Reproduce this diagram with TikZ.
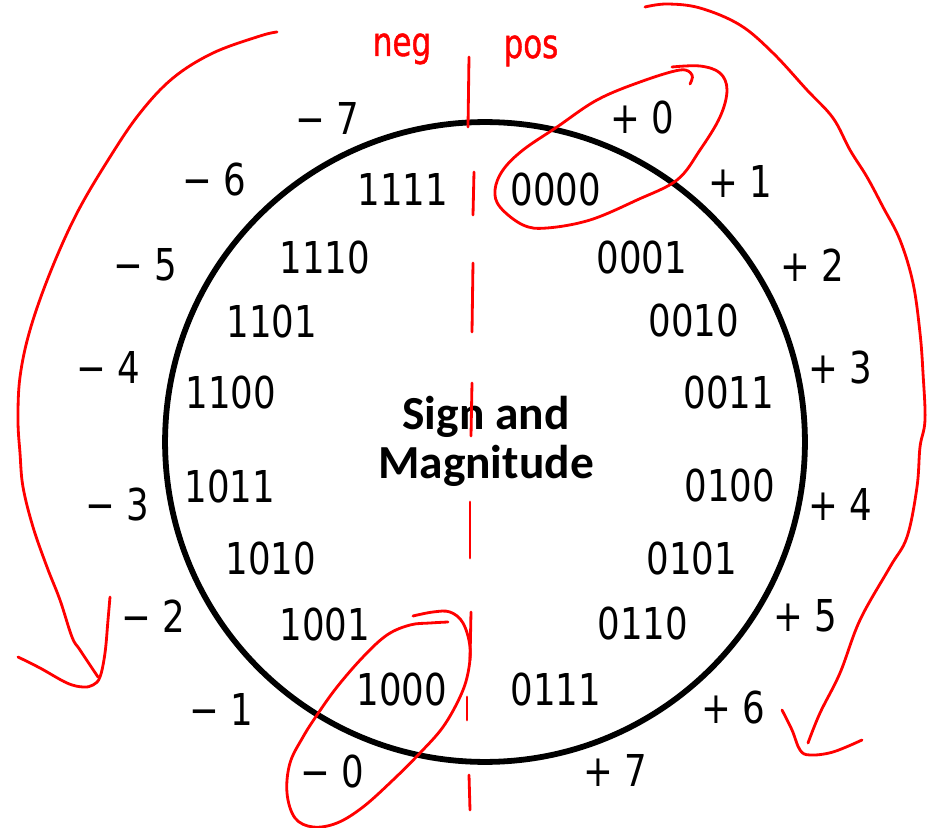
\documentclass[tikz,border=0pt]{standalone}
\usepackage{fontspec}
\newfontfamily\bitfont[FakeStretch=0.9]{DejaVu Sans Condensed}
\newfontfamily\titlefont{Carlito}
\newfontfamily\handfont[FakeStretch=0.85,FakeBold=1]{DejaVu Sans Condensed}

\begin{document}
\begin{tikzpicture}[x=0.02cm,y=-0.02cm]
\tikzset{
  wheel/.style={circle,draw,line width=3.3pt,minimum size=12.8cm,inner sep=0pt},
  bitcode/.style={font=\bitfont\fontsize{25}{30}\selectfont,inner sep=0pt},
  signval/.style={font=\bitfont\fontsize{25}{30}\selectfont,inner sep=0pt},
  titletext/.style={font=\titlefont\bfseries\fontsize{27}{28}\selectfont,align=center,inner sep=0pt},
  handnote/.style={red,font=\handfont\fontsize{23}{26}\selectfont,inner sep=0pt,anchor=base},
  pen/.style={red,line width=1.6pt,line cap=round,line join=round}
}
\useasboundingbox (0,0) rectangle (934,828);

\node[wheel] (ring) at (485,442) {};
\node[titletext] (title) at (486,441) {Sign and\\Magnitude};

% codes inside the ring
\node[bitcode] (b0000) at (556,190) {0000};
\node[bitcode] (b0001) at (642,258) {0001};
\node[bitcode] (b0010) at (694,321) {0010};
\node[bitcode] (b0011) at (729,393) {0011};
\node[bitcode] (b0100) at (730,486) {0100};
\node[bitcode] (b0101) at (692,559) {0101};
\node[bitcode] (b0110) at (643,624) {0110};
\node[bitcode] (b0111) at (556,690) {0111};
\node[bitcode] (b1000) at (402,690) {1000};
\node[bitcode] (b1001) at (325,625) {1001};
\node[bitcode] (b1010) at (271,559) {1010};
\node[bitcode] (b1011) at (230,487) {1011};
\node[bitcode] (b1100) at (231,393) {1100};
\node[bitcode] (b1101) at (272,322) {1101};
\node[bitcode] (b1110) at (325,258) {1110};
\node[bitcode] (b1111) at (403,189) {1111};

% values outside the ring
\node[signval] (p0) at (642,118) {+ 0};
\node[signval] (p1) at (740,181) {+ 1};
\node[signval] (p2) at (812,265) {+ 2};
\node[signval] (p3) at (840,368) {+ 3};
\node[signval] (p4) at (840,504) {+ 4};
\node[signval] (p5) at (805,616) {+ 5};
\node[signval] (p6) at (733,708) {+ 6};
\node[signval] (p7) at (615,770) {+ 7};
\node[signval] (m0) at (332,772) {− 0};
\node[signval] (m1) at (221,709) {− 1};
\node[signval] (m2) at (153,616) {− 2};
\node[signval] (m3) at (117,505) {− 3};
\node[signval] (m4) at (108,367) {− 4};
\node[signval] (m5) at (145,265) {− 5};
\node[signval] (m6) at (214,180) {− 6};
\node[signval] (m7) at (327,118) {− 7};

% red pen notes
\node[handnote] (neg) at (402,56) {neg};
\node[handnote] (pos) at (531,58) {pos};

\draw[pen] (469,57) -- (468,127);
\draw[pen] (474,172) -- (473,215);
\draw[pen] (473,263) -- (472,332);
\draw[pen] (472,383) -- (471,436);
\draw[pen] (470,502) -- (470,558);
\draw[pen] (471,612) -- (470,660);
\draw[pen] (467,697) -- (467,720);
\draw[pen] (469,775) -- (470,810);

\draw[pen] plot[smooth,tension=0.6] coordinates {(690,84) (692,75) (680,70) (640,82) (597,100) (557,127) (523,150) (503,170) (495,190) (500,207) (523,225) (547,228) (590,220) (637,200) (677,180) (700,150) (720,117) (727,90) (720,73) (700,66) (672,67)};
\draw[pen] plot[smooth,tension=0.6] coordinates {(448,622) (430,623) (410,625) (387,635) (363,657) (337,687) (317,715) (303,737) (290,763) (287,793) (295,818) (313,827) (337,823) (363,807) (393,780) (420,753) (443,727) (460,697) (468,673) (470,647) (463,623) (450,612) (433,612) (413,616)};

\draw[pen] plot[smooth,tension=0.6] coordinates {(277,32) (260,36) (213,53) (173,78) (140,113) (110,157) (77,213) (50,273) (30,330) (20,377) (18,420) (20,453) (23,487) (33,527) (47,567) (60,600) (72,637) (80,650) (98,677)};
\draw[pen] plot[smooth,tension=0.6] coordinates {(110,597) (108,620) (105,653) (100,677) (93,685) (83,687) (67,683) (40,668) (18,657)};

\draw[pen] plot[smooth,tension=0.6] coordinates {(645,7) (667,4) (700,8) (740,25) (773,53) (807,90) (833,118) (850,150) (867,177) (883,207) (900,240) (913,283) (920,333) (923,373) (925,420) (920,447) (917,487) (907,537) (890,567) (860,620) (840,673) (820,713) (808,743)};
\draw[pen] plot[smooth,tension=0.6] coordinates {(782,710) (792,730) (800,750) (810,755) (833,752) (862,740)};
\end{tikzpicture}
\end{document}
